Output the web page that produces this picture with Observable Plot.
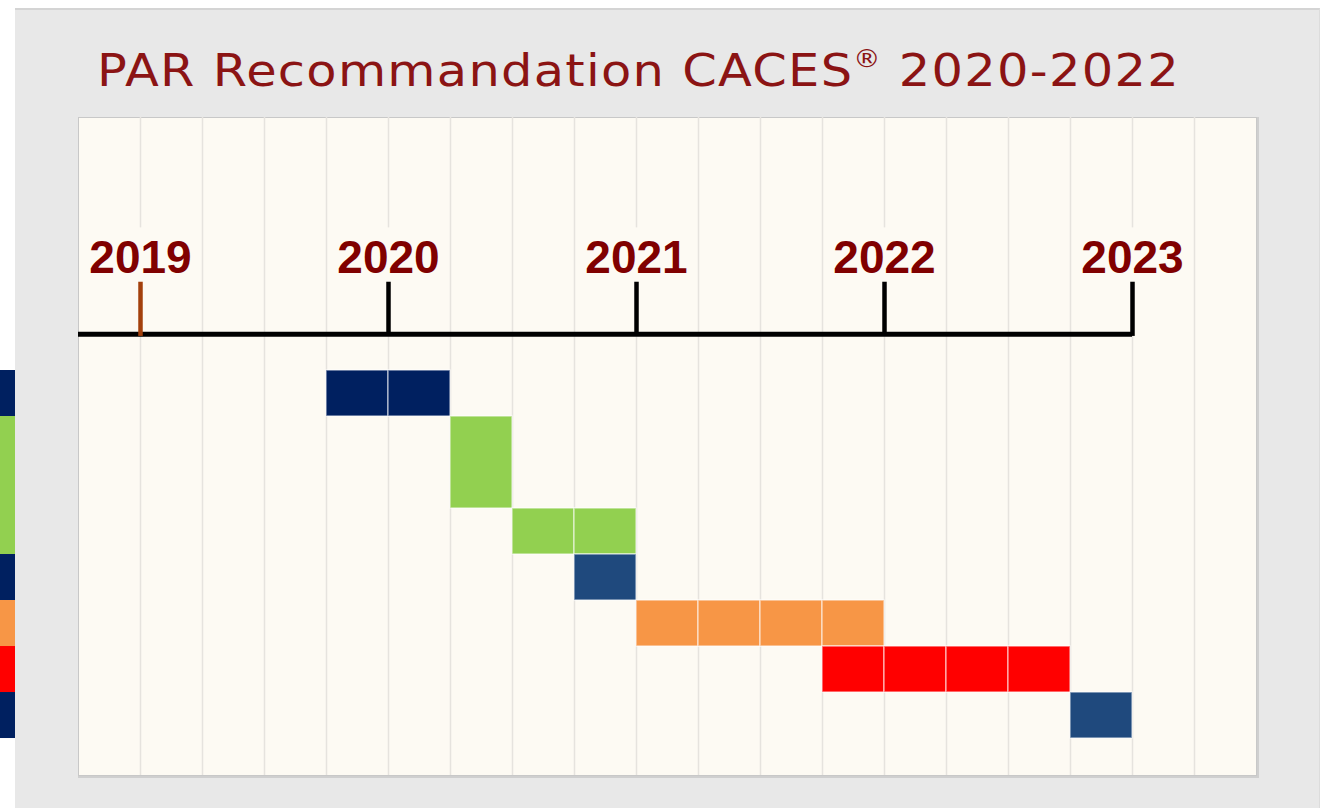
<!DOCTYPE html>
<html>
<head>
<meta charset="utf-8">
<script src="https://cdn.jsdelivr.net/npm/d3@7"></script>
<script src="https://cdn.jsdelivr.net/npm/@observablehq/plot@0.6"></script>
<style>
  html, body { margin: 0; padding: 0; background: #ffffff; width: 1325px; height: 808px; overflow: hidden; }
  #panel { position: absolute; left: 15px; top: 8px; width: 1305px; height: 800px; background: #e8e8e8;
           border-top: 2px solid #d4d4d4; border-right: 1px solid #dcdcdc; box-sizing: border-box; }
  #title { position: absolute; left: 97px; top: 48px; font-family: "DejaVu Sans", sans-serif; font-size: 45px;
           line-height: 1; color: #8b1414; white-space: nowrap; transform-origin: 0 0; }
  #title sup { font-size: 0.55em; vertical-align: 0; position: relative; top: -0.75em; }
  #chart { position: absolute; left: 0; top: 0; }
</style>
</head>
<body>
<div id="panel"></div>
<div id="title"><span id="titleText">PAR Recommandation CACES<sup>®</sup> 2020-2022</span></div>
<div id="chart"></div>
<script>
// ---- data ----
const years = [2019, 2020, 2021, 2022, 2023];
const yearTickColors = ["#a3400c", "#000000", "#000000", "#000000", "#000000"];
const gridQuarters = [2019, 2019.25, 2019.5, 2019.75, 2020, 2020.25, 2020.5, 2020.75, 2021, 2021.25, 2021.5, 2021.75,
                      2022, 2022.25, 2022.5, 2022.75, 2023, 2023.25];
// tasks (rows counted from the top of the task area)
const taskRowStart = [0, 1, 3, 4, 5, 6, 7];
const taskRowSpan  = [1, 2, 1, 1, 1, 1, 1];
const taskStart    = [2019.75, 2020.25, 2020.5, 2020.75, 2021.0, 2021.75, 2022.75];
const taskEnd      = [2020.25, 2020.5, 2021.0, 2021.0, 2022.0, 2022.75, 2023.0];
const taskColor    = ["#002060", "#92d050", "#92d050", "#1f497d", "#f79646", "#ff0000", "#1f497d"];
// cut-off row label strips on the left edge
const stripRowStart = [0, 1, 4, 5, 6, 7];
const stripRowSpan  = [1, 3, 1, 1, 1, 1];
const stripColor    = ["#002060", "#92d050", "#002060", "#f79646", "#ff0000", "#002060"];

// ---- derived tables ----
const cells = [];
taskStart.forEach((s, i) => {
  for (let q = s; q < taskEnd[i] - 1e-9; q += 0.25) {
    cells.push({x1: q, x2: q + 0.25, y1: taskRowStart[i], y2: taskRowStart[i] + taskRowSpan[i], color: taskColor[i]});
  }
});
const strips = stripColor.map((c, i) => ({y1: stripRowStart[i], y2: stripRowStart[i] + stripRowSpan[i], color: c}));
const yearData = years.map((y, i) => ({year: y, color: yearTickColors[i]}));

// ---- layout ----
const W = 1325, H = 808;
const mL = 78, mR = 69, mT = 117, mB = 33;
const xDomain = [2018.75, 2023.5];
const pxPerYear = (W - mL - mR) / (xDomain[1] - xDomain[0]);
const stripX1 = xDomain[0] - mL / pxPerYear;
const stripX2 = xDomain[0] - (mL - 15) / pxPerYear;
const axisY = -0.79, tickTop = -1.87, labelY = -2.44, labelTop = -3.1;
const cream = "#fdfaf3";

const chart = Plot.plot({
  width: W, height: H,
  marginLeft: mL, marginRight: mR, marginTop: mT, marginBottom: mB,
  x: {domain: xDomain, axis: null},
  y: {domain: [-5.5, 8.804], reverse: true, axis: null},
  style: {background: "transparent", overflow: "visible"},
  marks: [
    Plot.frame({stroke: "#cfcfcf", strokeWidth: 3, dx: 1, dy: 1}),
    Plot.frame({fill: cream, stroke: "#c8c8c8", strokeWidth: 1}),
    Plot.ruleX(gridQuarters, {x: d => d, stroke: "#e6e3de", strokeWidth: 1.5}),
    Plot.ruleX(years, {x: d => d, y1: labelTop, y2: tickTop, stroke: cream, strokeWidth: 3}),
    Plot.rect(cells, {x1: "x1", x2: "x2", y1: "y1", y2: "y2", fill: "color", stroke: "#ffffff", strokeOpacity: 0.55, strokeWidth: 1.5}),
    Plot.rect(strips, {x1: stripX1, x2: stripX2, y1: "y1", y2: "y2", fill: "color", clip: false}),
    Plot.ruleY([axisY], {x1: xDomain[0], x2: 2023, stroke: "#000", strokeWidth: 5}),
    Plot.ruleX(yearData, {x: "year", y1: tickTop, y2: axisY, stroke: "color", strokeWidth: 4.5, strokeLinecap: "square"}),
    Plot.text(yearData, {x: "year", y: labelY, text: d => String(d.year), fill: "#800000",
      fontFamily: "Liberation Sans, Arial, sans-serif", fontWeight: "bold", fontSize: 46, lineAnchor: "middle", textAnchor: "middle"})
  ]
});
document.getElementById("chart").appendChild(chart);

// fit title width to the reference: widen glyphs a little, then fill with spacing
const title = document.getElementById("title");
const span = document.getElementById("titleText");
const target = 1083;
const sx = 1.1;
const w = span.getBoundingClientRect().width;
const n = span.textContent.length;
span.style.letterSpacing = ((target / sx - w) / n) + "px";
title.style.transform = "scaleX(" + sx + ")";
</script>
</body>
</html>
